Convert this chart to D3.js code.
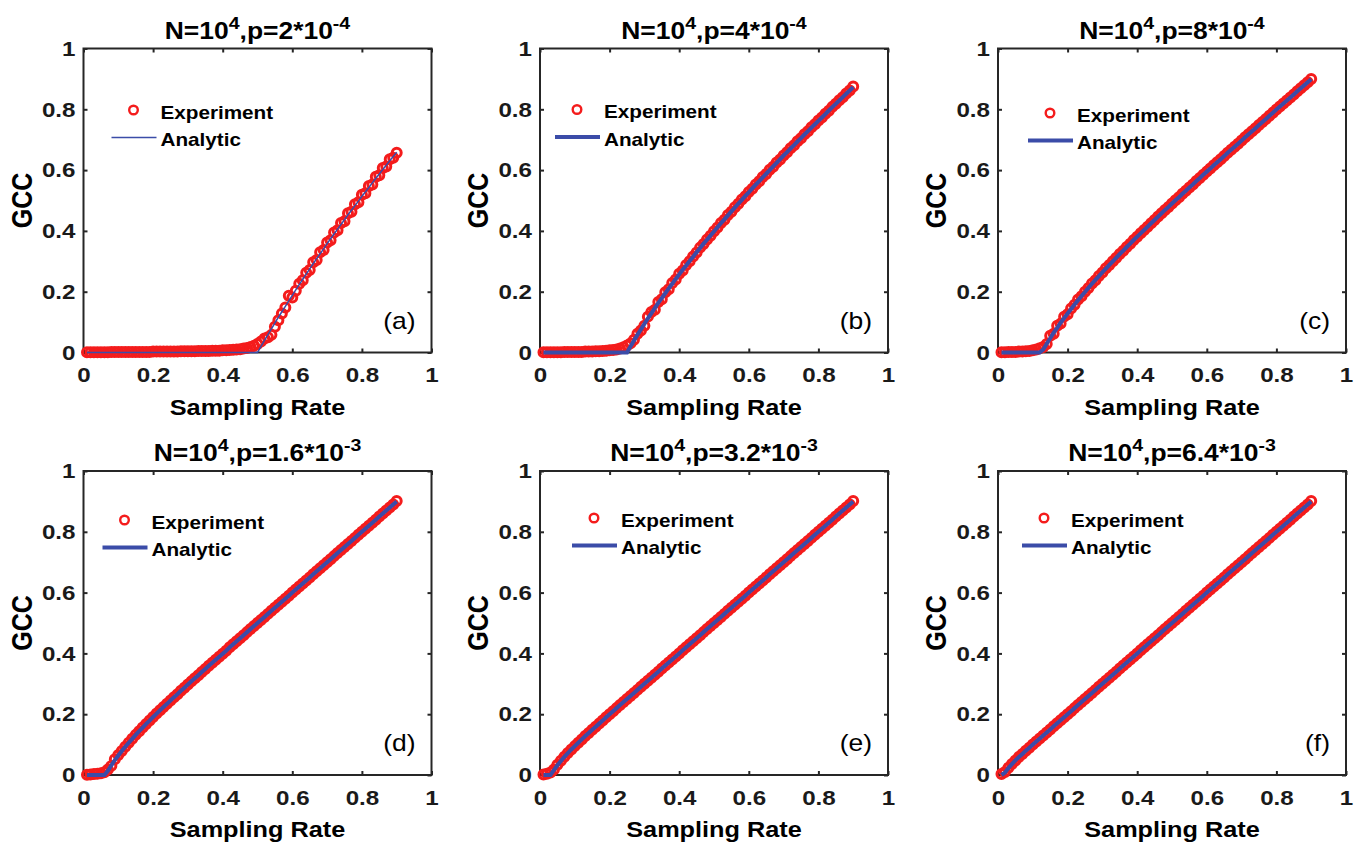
<!DOCTYPE html>
<html>
<meta charset="utf-8">
<style>
body {
  margin: 0;
  background: #fff;
}
svg {
  display: block;
}
text {
  font-family: "Liberation Sans", Arial, Helvetica, sans-serif;
  fill: #000;
}
.frame {
  fill: none;
  stroke: #262626;
  stroke-width: 2;
}
.axis .tick line {
  stroke: #262626;
  stroke-width: 2;
}
.axis text {
  font-family: "Liberation Sans", Arial, Helvetica, sans-serif;
  font-size: 21px;
  font-weight: bold;
  fill: #1a1a1a;
}
.expt {
  fill: none;
  stroke: #f41c1c;
  stroke-width: 3;
}
.legend-mark {
  fill: none;
  stroke: #f41c1c;
  stroke-width: 2.4;
}
.analytic {
  fill: none;
  stroke: #3b4ca8;
}
</style>
<body>
<script src="https://d3js.org/d3.v7.min.js"></script>
<script>
// sampling rate grid shared by every panel
var samplingRate = [
  0.01,0.02,0.03,0.04,0.05,0.06,0.07,0.08,0.09,0.10,
  0.11,0.12,0.13,0.14,0.15,0.16,0.17,0.18,0.19,0.20,
  0.21,0.22,0.23,0.24,0.25,0.26,0.27,0.28,0.29,0.30,
  0.31,0.32,0.33,0.34,0.35,0.36,0.37,0.38,0.39,0.40,
  0.41,0.42,0.43,0.44,0.45,0.46,0.47,0.48,0.49,0.50,
  0.51,0.52,0.53,0.54,0.55,0.56,0.57,0.58,0.59,0.60,
  0.61,0.62,0.63,0.64,0.65,0.66,0.67,0.68,0.69,0.70,
  0.71,0.72,0.73,0.74,0.75,0.76,0.77,0.78,0.79,0.80,
  0.81,0.82,0.83,0.84,0.85,0.86,0.87,0.88,0.89,0.90];

var pMantissa = ["2", "4", "8", "1.6", "3.2", "6.4"];
var pExponent = ["-4", "-4", "-4", "-3", "-3", "-3"];
var panelTags = ["(a)", "(b)", "(c)", "(d)", "(e)", "(f)"];
var axisTicks = [0, 0.2, 0.4, 0.6, 0.8, 1];

// (a) p = 2e-4
var gccExperimentA = [
  0.001,0.001,0.001,0.001,0.001,0.001,0.001,0.002,0.002,0.002,
  0.002,0.002,0.002,0.002,0.002,0.002,0.002,0.002,0.002,0.003,
  0.003,0.003,0.003,0.003,0.003,0.003,0.003,0.004,0.004,0.004,
  0.004,0.004,0.005,0.005,0.005,0.005,0.006,0.006,0.006,0.007,
  0.007,0.008,0.009,0.010,0.011,0.013,0.015,0.018,0.022,0.028,
  0.036,0.046,0.050,0.058,0.085,0.106,0.128,0.148,0.187,0.181,
  0.203,0.226,0.238,0.262,0.271,0.297,0.304,0.330,0.337,0.362,
  0.369,0.395,0.402,0.426,0.432,0.458,0.463,0.488,0.494,0.519,
  0.524,0.548,0.553,0.578,0.583,0.607,0.612,0.636,0.641,0.657];
var gccAnalyticA = [
  0,0,0,0,0,0,0,0,0,0,
  0,0,0,0,0,0,0,0,0,0,
  0,0,0,0,0,0,0,0,0,0,
  0,0,0,0,0,0,0,0,0,0,
  0,0,0,0,0,0,0,0,0,0,
  0.020,0.040,0.059,0.078,0.097,0.116,0.134,0.152,0.170,0.188,
  0.206,0.223,0.241,0.258,0.275,0.292,0.309,0.325,0.341,0.358,
  0.374,0.390,0.406,0.421,0.437,0.453,0.468,0.483,0.498,0.514,
  0.528,0.543,0.558,0.573,0.587,0.602,0.616,0.631,0.645,0.659];

// (b) p = 4e-4
var gccExperimentB = [
  0.001,0.001,0.001,0.001,0.001,0.001,0.002,0.002,0.002,0.002,
  0.002,0.002,0.003,0.003,0.003,0.004,0.004,0.005,0.006,0.007,
  0.008,0.010,0.013,0.017,0.023,0.030,0.042,0.062,0.072,0.088,
  0.118,0.133,0.141,0.166,0.175,0.198,0.208,0.229,0.240,0.259,
  0.270,0.288,0.300,0.316,0.329,0.345,0.357,0.372,0.384,0.399,
  0.411,0.426,0.437,0.452,0.463,0.478,0.489,0.503,0.514,0.528,
  0.539,0.553,0.563,0.577,0.587,0.601,0.611,0.625,0.635,0.648,
  0.659,0.672,0.682,0.695,0.705,0.718,0.728,0.741,0.751,0.763,
  0.773,0.785,0.795,0.808,0.818,0.830,0.840,0.852,0.862,0.875];
var gccAnalyticB = [
  0,0,0,0,0,0,0,0,0,0,
  0,0,0,0,0,0,0,0,0,0,
  0,0,0,0,0,0.020,0.039,0.058,0.076,0.094,
  0.112,0.129,0.146,0.163,0.179,0.195,0.211,0.226,0.242,0.257,
  0.272,0.286,0.301,0.315,0.330,0.344,0.358,0.371,0.385,0.398,
  0.412,0.425,0.438,0.451,0.464,0.477,0.490,0.502,0.515,0.527,
  0.540,0.552,0.564,0.576,0.588,0.600,0.612,0.624,0.636,0.648,
  0.659,0.671,0.682,0.694,0.705,0.717,0.728,0.740,0.751,0.762,
  0.773,0.784,0.796,0.807,0.818,0.829,0.840,0.851,0.862,0.873];

// (c) p = 8e-4
var gccExperimentC = [
  0.001,0.001,0.002,0.002,0.002,0.003,0.003,0.004,0.005,0.007,
  0.010,0.014,0.018,0.028,0.055,0.062,0.088,0.095,0.118,0.126,
  0.145,0.157,0.174,0.185,0.200,0.212,0.227,0.238,0.252,0.263,
  0.277,0.288,0.300,0.312,0.324,0.335,0.347,0.358,0.370,0.381,
  0.392,0.403,0.414,0.425,0.436,0.447,0.458,0.469,0.479,0.490,
  0.501,0.511,0.522,0.532,0.543,0.553,0.564,0.574,0.585,0.595,
  0.605,0.616,0.626,0.636,0.646,0.657,0.667,0.677,0.687,0.697,
  0.708,0.718,0.728,0.738,0.748,0.758,0.768,0.779,0.789,0.799,
  0.809,0.819,0.829,0.839,0.849,0.859,0.869,0.879,0.889,0.900];
var gccAnalyticC = [
  0,0,0,0,0,0,0,0,0,0,
  0,0,0.010,0.029,0.047,0.065,0.081,0.098,0.113,0.128,
  0.143,0.158,0.172,0.186,0.199,0.213,0.226,0.239,0.251,0.264,
  0.276,0.288,0.300,0.312,0.324,0.335,0.347,0.358,0.370,0.381,
  0.392,0.403,0.414,0.425,0.436,0.447,0.458,0.469,0.479,0.490,
  0.501,0.511,0.522,0.532,0.543,0.553,0.564,0.574,0.585,0.595,
  0.605,0.616,0.626,0.636,0.646,0.657,0.667,0.677,0.687,0.697,
  0.708,0.718,0.728,0.738,0.748,0.758,0.768,0.779,0.789,0.799,
  0.809,0.819,0.829,0.839,0.849,0.859,0.869,0.879,0.889,0.899];

// (d) p = 1.6e-3
var gccExperimentD = [
  0.001,0.002,0.003,0.004,0.006,0.009,0.018,0.030,0.052,0.066,
  0.079,0.093,0.106,0.119,0.132,0.144,0.156,0.168,0.179,0.191,
  0.202,0.213,0.224,0.234,0.245,0.256,0.266,0.277,0.287,0.298,
  0.308,0.318,0.328,0.339,0.349,0.359,0.369,0.379,0.389,0.399,
  0.409,0.420,0.430,0.440,0.450,0.460,0.470,0.480,0.490,0.500,
  0.510,0.520,0.530,0.540,0.550,0.560,0.570,0.580,0.590,0.600,
  0.610,0.620,0.630,0.640,0.650,0.660,0.670,0.680,0.690,0.700,
  0.710,0.720,0.730,0.740,0.750,0.760,0.770,0.780,0.790,0.800,
  0.810,0.820,0.830,0.840,0.850,0.860,0.870,0.880,0.890,0.901];
var gccAnalyticD = [
  0,0,0,0,0,0,0.014,0.032,0.049,0.064,
  0.079,0.093,0.106,0.119,0.132,0.144,0.156,0.168,0.179,0.191,
  0.202,0.213,0.224,0.234,0.245,0.256,0.266,0.277,0.287,0.298,
  0.308,0.318,0.328,0.339,0.349,0.359,0.369,0.379,0.389,0.399,
  0.409,0.420,0.430,0.440,0.450,0.460,0.470,0.480,0.490,0.500,
  0.510,0.520,0.530,0.540,0.550,0.560,0.570,0.580,0.590,0.600,
  0.610,0.620,0.630,0.640,0.650,0.660,0.670,0.680,0.690,0.700,
  0.710,0.720,0.730,0.740,0.750,0.760,0.770,0.780,0.790,0.800,
  0.810,0.820,0.830,0.840,0.850,0.860,0.870,0.880,0.890,0.900];

// (e) p = 3.2e-3
var gccExperimentE = [
  0.002,0.004,0.008,0.018,0.034,0.047,0.060,0.072,0.084,0.095,
  0.106,0.117,0.128,0.138,0.149,0.159,0.169,0.179,0.190,0.200,
  0.210,0.220,0.230,0.240,0.250,0.260,0.270,0.280,0.290,0.300,
  0.310,0.320,0.330,0.340,0.350,0.360,0.370,0.380,0.390,0.400,
  0.410,0.420,0.430,0.440,0.450,0.460,0.470,0.480,0.490,0.500,
  0.510,0.520,0.530,0.540,0.550,0.560,0.570,0.580,0.590,0.600,
  0.610,0.620,0.630,0.640,0.650,0.660,0.670,0.680,0.690,0.700,
  0.710,0.720,0.730,0.740,0.750,0.760,0.770,0.780,0.790,0.800,
  0.810,0.820,0.830,0.840,0.850,0.860,0.870,0.880,0.890,0.901];
var gccAnalyticE = [
  0,0,0,0.016,0.032,0.046,0.060,0.072,0.084,0.095,
  0.106,0.117,0.128,0.138,0.149,0.159,0.169,0.179,0.190,0.200,
  0.210,0.220,0.230,0.240,0.250,0.260,0.270,0.280,0.290,0.300,
  0.310,0.320,0.330,0.340,0.350,0.360,0.370,0.380,0.390,0.400,
  0.410,0.420,0.430,0.440,0.450,0.460,0.470,0.480,0.490,0.500,
  0.510,0.520,0.530,0.540,0.550,0.560,0.570,0.580,0.590,0.600,
  0.610,0.620,0.630,0.640,0.650,0.660,0.670,0.680,0.690,0.700,
  0.710,0.720,0.730,0.740,0.750,0.760,0.770,0.780,0.790,0.800,
  0.810,0.820,0.830,0.840,0.850,0.860,0.870,0.880,0.890,0.900];

// (f) p = 6.4e-3
var gccExperimentF = [
  0.003,0.010,0.024,0.036,0.048,0.059,0.069,0.080,0.090,0.100,
  0.110,0.120,0.130,0.140,0.150,0.160,0.170,0.180,0.190,0.200,
  0.210,0.220,0.230,0.240,0.250,0.260,0.270,0.280,0.290,0.300,
  0.310,0.320,0.330,0.340,0.350,0.360,0.370,0.380,0.390,0.400,
  0.410,0.420,0.430,0.440,0.450,0.460,0.470,0.480,0.490,0.500,
  0.510,0.520,0.530,0.540,0.550,0.560,0.570,0.580,0.590,0.600,
  0.610,0.620,0.630,0.640,0.650,0.660,0.670,0.680,0.690,0.700,
  0.710,0.720,0.730,0.740,0.750,0.760,0.770,0.780,0.790,0.800,
  0.810,0.820,0.830,0.840,0.850,0.860,0.870,0.880,0.890,0.901];
var gccAnalyticF = [
  0,0.008,0.023,0.036,0.048,0.059,0.069,0.080,0.090,0.100,
  0.110,0.120,0.130,0.140,0.150,0.160,0.170,0.180,0.190,0.200,
  0.210,0.220,0.230,0.240,0.250,0.260,0.270,0.280,0.290,0.300,
  0.310,0.320,0.330,0.340,0.350,0.360,0.370,0.380,0.390,0.400,
  0.410,0.420,0.430,0.440,0.450,0.460,0.470,0.480,0.490,0.500,
  0.510,0.520,0.530,0.540,0.550,0.560,0.570,0.580,0.590,0.600,
  0.610,0.620,0.630,0.640,0.650,0.660,0.670,0.680,0.690,0.700,
  0.710,0.720,0.730,0.740,0.750,0.760,0.770,0.780,0.790,0.800,
  0.810,0.820,0.830,0.840,0.850,0.860,0.870,0.880,0.890,0.900];

var experiments = [gccExperimentA, gccExperimentB, gccExperimentC, gccExperimentD, gccExperimentE, gccExperimentF];
var analytics = [gccAnalyticA, gccAnalyticB, gccAnalyticC, gccAnalyticD, gccAnalyticE, gccAnalyticF];

// layout
var W = 1359, H = 850;
var boxW = 348, boxH = 304;
var colLeft = [83.5, 540, 998], rowTop = [48.5, 471];
var legendPos = [[50, 61.5], [37, 61], [52, 64.5], [41, 49], [54, 47], [46, 47]];
var lineWidths = [1.5, 4, 4, 4, 4, 4];
var markerR = 4.5;
var sx = 1.15;   // the figure is a bit stretched sideways

var svg = d3.select("body").append("svg")
    .attr("width", W)
    .attr("height", H);

var x = d3.scaleLinear().domain([0, 1]).range([0, boxW]);
var y = d3.scaleLinear().domain([0, 1]).range([boxH, 0]);
var fmt = d3.format("~g");

function wideText(parent, px, py) {
  return parent.append("g")
      .attr("transform", "translate(" + px + "," + py + ") scale(" + sx + ",1)")
    .append("text");
}

function styleAxis(sel) {
  sel.select(".domain").remove();
  sel.attr("font-size", null).attr("font-family", null);
  sel.selectAll("text").attr("transform", "scale(" + sx + ",1)");
}

experiments.forEach(function(expt, i) {
  var left = colLeft[i % 3], top = rowTop[Math.floor(i / 3)];
  var g = svg.append("g").attr("transform", "translate(" + left + "," + top + ")");

  g.append("rect").attr("class", "frame").attr("width", boxW).attr("height", boxH);

  g.append("g").attr("class", "axis")
      .attr("transform", "translate(0," + boxH + ")")
      .call(d3.axisBottom(x).tickValues(axisTicks).tickFormat(fmt).tickSizeInner(-4).tickSizeOuter(0).tickPadding(15))
      .call(styleAxis);
  g.append("g").attr("class", "axis")
      .call(d3.axisLeft(y).tickValues(axisTicks).tickFormat(fmt).tickSizeInner(-4).tickSizeOuter(0).tickPadding(7))
      .call(styleAxis);
  g.append("g").attr("class", "axis")
      .call(d3.axisTop(x).tickValues(axisTicks).tickFormat("").tickSizeInner(-4).tickSizeOuter(0))
      .call(styleAxis);
  g.append("g").attr("class", "axis")
      .attr("transform", "translate(" + boxW + ",0)")
      .call(d3.axisRight(y).tickValues(axisTicks).tickFormat("").tickSizeInner(-4).tickSizeOuter(0))
      .call(styleAxis);

  // title  N=10^4,p=...
  var t = wideText(g, boxW / 2, -10)
      .attr("text-anchor", "middle")
      .attr("font-size", 23)
      .attr("font-weight", "bold");
  t.append("tspan").text("N=10");
  t.append("tspan").attr("font-size", 17).attr("dy", -10).text("4");
  t.append("tspan").attr("dy", 10).text(",p=" + pMantissa[i] + "*10");
  t.append("tspan").attr("font-size", 17).attr("dy", -10).text(pExponent[i]);

  // axis labels
  wideText(g, boxW / 2, boxH + 62)
      .attr("text-anchor", "middle")
      .attr("font-size", 22)
      .attr("font-weight", "bold")
      .text("Sampling Rate");
  g.append("g")
      .attr("transform", "translate(-52," + (boxH / 2) + ") scale(" + sx + ",1) rotate(-90)")
    .append("text")
      .attr("text-anchor", "middle")
      .attr("font-size", 25)
      .attr("font-weight", "bold")
      .text("GCC");

  // experiment circles, then the analytic line on top
  g.append("g").selectAll("circle")
      .data(expt)
      .join("circle")
      .attr("class", "expt")
      .attr("cx", function(d, k) { return x(samplingRate[k]); })
      .attr("cy", function(d) { return y(d); })
      .attr("r", markerR);

  var line = d3.line()
      .x(function(d, k) { return x(samplingRate[k]); })
      .y(function(d) { return y(d); });
  g.append("path")
      .datum(analytics[i])
      .attr("class", "analytic")
      .attr("stroke-width", lineWidths[i])
      .attr("d", line);

  // legend
  var lp = legendPos[i];
  g.append("circle").attr("class", "legend-mark").attr("cx", lp[0]).attr("cy", lp[1]).attr("r", 4.3);
  wideText(g, lp[0] + 27, lp[1] + 8.5)
      .attr("font-size", 18)
      .attr("font-weight", "bold")
      .text("Experiment");
  g.append("line").attr("class", "analytic")
      .attr("x1", lp[0] - 22).attr("x2", lp[0] + 23)
      .attr("y1", lp[1] + 27.5).attr("y2", lp[1] + 27.5)
      .attr("stroke-width", lineWidths[i]);
  wideText(g, lp[0] + 27, lp[1] + 36)
      .attr("font-size", 18)
      .attr("font-weight", "bold")
      .text("Analytic");

  // panel tag
  wideText(g, boxW - 16, boxH - 24)
      .attr("text-anchor", "end")
      .attr("font-family", "'Open Sans', 'Noto Sans', sans-serif")
      .attr("font-size", 23)
      .text(panelTags[i]);
});
</script>
</body>
</html>
